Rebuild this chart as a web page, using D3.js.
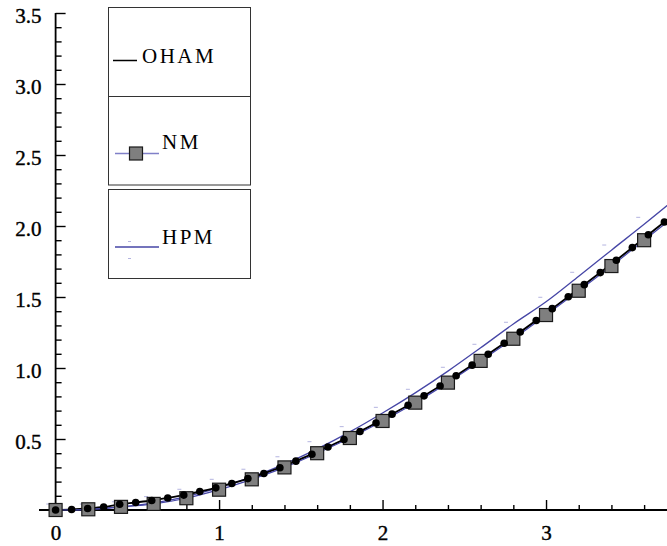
<!DOCTYPE html>
<html>
<head>
<meta charset="utf-8">
<script src="https://cdn.jsdelivr.net/npm/d3@7"></script>
<style>
  body { margin: 0; background: #fff; }
  svg text { font-family: "Liberation Serif", "Times New Roman", serif !important; }
</style>
</head>
<body>
<svg id="chart" width="667" height="546"></svg>
<script>
// NM solution (squares), every 0.2
const nmX = [0, 0.2, 0.4, 0.6, 0.8, 1.0, 1.2, 1.4, 1.6, 1.8, 2.0, 2.2, 2.4, 2.6, 2.8, 3.0, 3.2, 3.4, 3.6, 3.8];
const nmY = [0, 0.005, 0.022, 0.043, 0.083, 0.143, 0.216, 0.30, 0.40, 0.507, 0.627, 0.756, 0.897, 1.05, 1.206, 1.373, 1.544, 1.718, 1.90, 2.08];

// HPM solution (thin line)
const hpmX = [0, 0.2, 0.4, 0.6, 0.8, 1.0, 1.2, 1.4, 1.6, 1.8, 2.0, 2.2, 2.4, 2.6, 2.8, 3.0, 3.2, 3.4, 3.6, 3.8];
const hpmY = [0, 0.004, 0.022, 0.05, 0.095, 0.157, 0.233, 0.323, 0.43, 0.55, 0.683, 0.825, 0.978, 1.142, 1.31, 1.466, 1.646, 1.83, 2.012, 2.2];

// faint HPM marks above the line
const hpmMarkX = [-0.045, 0.16, 0.357, 0.553, 0.757, 0.955, 1.149, 1.357, 1.553, 1.75, 1.959, 2.155, 2.369, 2.562, 2.755, 2.965, 3.16, 3.356, 3.564];
const hpmMarkY = [0.042, 0.042, 0.058, 0.094, 0.146, 0.216, 0.287, 0.375, 0.481, 0.587, 0.723, 0.85, 1.005, 1.167, 1.322, 1.498, 1.674, 1.866, 2.061];

// OHAM solution (black line with dots)
const ohamX = [0, 0.098, 0.196, 0.294, 0.392, 0.49, 0.588, 0.686, 0.784, 0.882, 0.98, 1.078, 1.176, 1.274, 1.372,
  1.47, 1.568, 1.666, 1.764, 1.862, 1.96, 2.058, 2.156, 2.254, 2.352, 2.45, 2.548, 2.646, 2.744, 2.842, 2.94,
  3.038, 3.136, 3.234, 3.332, 3.43, 3.528, 3.626, 3.724];
const ohamY = [0, 0.004, 0.011, 0.021, 0.04, 0.053, 0.067, 0.085, 0.105, 0.13, 0.156, 0.187, 0.221, 0.257, 0.298,
  0.344, 0.393, 0.444, 0.497, 0.553, 0.613, 0.675, 0.738, 0.804, 0.873, 0.945, 1.02, 1.097, 1.174, 1.253, 1.335,
  1.418, 1.502, 1.587, 1.672, 1.759, 1.848, 1.938, 2.028];

const xMinor = [0.2, 0.4, 0.6, 0.8, 1.2, 1.4, 1.6, 1.8, 2.2, 2.4, 2.6, 2.8, 3.2, 3.4, 3.6];
const xLabels = [0, 1, 2, 3];
const yMajor = [0.5, 1.0, 1.5, 2.0, 2.5, 3.0, 3.5];
const yMinor = [0.1, 0.2, 0.3, 0.4, 0.6, 0.7, 0.8, 0.9, 1.1, 1.2, 1.3, 1.4, 1.6, 1.7, 1.8, 1.9,
  2.1, 2.2, 2.3, 2.4, 2.6, 2.7, 2.8, 2.9, 3.1, 3.2, 3.3, 3.4];

const legendNames = ["OHAM", "NM", "HPM"];

const blue = "#4646a6";
const svg = d3.select("#chart");

const x = d3.scaleLinear().domain([0, 3.74]).range([55.6, 667]);
const y = d3.scaleLinear().domain([0, 3.5]).range([510, 13]);

// X axis
const xAxisMinor = svg.append("g")
  .attr("transform", `translate(0,${y(0)})`)
  .call(d3.axisBottom(x).tickValues(xMinor).tickSize(-5).tickFormat(""));
const xAxisMajor = svg.append("g")
  .attr("transform", `translate(0,${y(0)})`)
  .call(d3.axisBottom(x).tickValues(xLabels).tickSize(-10).tickPadding(15).tickFormat(d3.format("d")));
xAxisMajor.selectAll(".tick").filter(d => d === 0).select("line").remove();

// Y axis
const yAxisMinor = svg.append("g")
  .attr("transform", `translate(${x(0)},0)`)
  .call(d3.axisLeft(y).tickValues(yMinor).tickSize(-6).tickFormat(""));
const yAxisMajor = svg.append("g")
  .attr("transform", `translate(${x(0)},0)`)
  .call(d3.axisLeft(y).tickValues(yMajor).tickSize(-10).tickPadding(14).tickFormat(d3.format(".1f")));

[xAxisMinor, xAxisMajor, yAxisMinor, yAxisMajor].forEach(g => {
  g.attr("font-family", null);
  g.select(".domain").remove();
  g.selectAll("line").attr("stroke", "#000").attr("stroke-width", 1.4);
  g.selectAll("text")
    .attr("fill", "#000")
    .attr("stroke", "#000")
    .attr("stroke-width", 0.4)
    .attr("font-size", "21px");
});
yAxisMajor.selectAll("text").attr("dy", "0.45em");

// axis lines
svg.append("line")
  .attr("x1", 39).attr("x2", 667)
  .attr("y1", y(0)).attr("y2", y(0))
  .attr("stroke", "#000").attr("stroke-width", 1.8);
svg.append("line")
  .attr("x1", x(0)).attr("x2", x(0))
  .attr("y1", y(3.5)).attr("y2", y(0))
  .attr("stroke", "#000").attr("stroke-width", 1.8);

const line = d3.line().x(d => x(d[0])).y(d => y(d[1])).curve(d3.curveCatmullRom);

// HPM marks
svg.append("g").selectAll("line")
  .data(d3.zip(hpmMarkX, hpmMarkY))
  .join("line")
  .attr("x1", d => x(d[0]) - 2).attr("x2", d => x(d[0]) + 2)
  .attr("y1", d => y(d[1])).attr("y2", d => y(d[1]))
  .attr("stroke", "#b4b4e0").attr("stroke-width", 1);

// HPM line
svg.append("path")
  .datum(d3.zip(hpmX, hpmY))
  .attr("d", line)
  .attr("fill", "none").attr("stroke", blue).attr("stroke-width", 1.3);

// OHAM line
svg.append("path")
  .datum(d3.zip(ohamX, ohamY))
  .attr("d", line)
  .attr("fill", "none").attr("stroke", "#000").attr("stroke-width", 1.9);

// NM line
svg.append("path")
  .datum(d3.zip(nmX, nmY))
  .attr("d", line)
  .attr("fill", "none").attr("stroke", blue).attr("stroke-width", 1.2);

// NM squares
const sq = 13;
svg.append("g").selectAll("rect")
  .data(d3.zip(nmX, nmY))
  .join("rect")
  .attr("x", d => x(d[0]) - sq / 2)
  .attr("y", d => y(d[1]) - sq / 2)
  .attr("width", sq).attr("height", sq)
  .attr("fill", "#7f7f7f")
  .attr("stroke", "#1a1a1a").attr("stroke-width", 1.2);

// OHAM dots
svg.append("g").selectAll("circle")
  .data(d3.zip(ohamX, ohamY))
  .join("circle")
  .attr("cx", d => x(d[0]))
  .attr("cy", d => y(d[1]))
  .attr("r", 3.8)
  .attr("fill", "#000");

// Legend
const legend = svg.append("g");
const boxes = [[108.5, 7.5, 142, 89], [108.5, 96.5, 142, 88.5], [108.5, 189.5, 142, 89]];
legend.selectAll("rect")
  .data(boxes)
  .join("rect")
  .attr("x", d => d[0]).attr("y", d => d[1])
  .attr("width", d => d[2]).attr("height", d => d[3])
  .attr("fill", "#fff").attr("stroke", "#333").attr("stroke-width", 1);

const legendText = [[142, 62.5], [162, 149], [162, 243.5]];
legend.selectAll("text")
  .data(legendNames)
  .join("text")
  .attr("x", (d, i) => legendText[i][0])
  .attr("y", (d, i) => legendText[i][1])
  .attr("font-size", "21px")
  .attr("letter-spacing", "2.5px")
  .attr("fill", "#000")
  .text(d => d);

// legend symbols
legend.append("line")
  .attr("x1", 113).attr("x2", 137).attr("y1", 60.5).attr("y2", 60.5)
  .attr("stroke", "#000").attr("stroke-width", 1.5);
legend.append("line")
  .attr("x1", 115).attr("x2", 159).attr("y1", 153.5).attr("y2", 153.5)
  .attr("stroke", "#8080c8").attr("stroke-width", 1.3);
legend.append("rect")
  .attr("x", 136 - sq / 2).attr("y", 153.5 - sq / 2)
  .attr("width", sq).attr("height", sq)
  .attr("fill", "#7f7f7f").attr("stroke", "#1a1a1a").attr("stroke-width", 1.2);
legend.append("line")
  .attr("x1", 115).attr("x2", 159).attr("y1", 247).attr("y2", 247)
  .attr("stroke", blue).attr("stroke-width", 1.5);
legend.selectAll(".hmark")
  .data([241.5, 258.5])
  .join("line")
  .attr("class", "hmark")
  .attr("x1", 128).attr("x2", 131).attr("y1", d => d).attr("y2", d => d)
  .attr("stroke", "#b4b4e0").attr("stroke-width", 1);
</script>
</body>
</html>
